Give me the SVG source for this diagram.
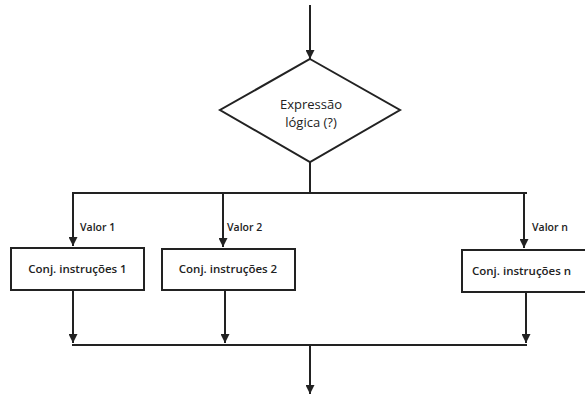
<svg xmlns="http://www.w3.org/2000/svg" width="585" height="397" viewBox="0 0 585 397">
  <style>
    .ln { stroke: #222; stroke-width: 2; fill: none; }
    .box { fill: #fff; stroke: #222; stroke-width: 2; }
    .txt { font-family: "Open Sans", "DejaVu Sans", sans-serif; font-weight: 600; fill: #222; }
    .lbl { font-size: 10.5px; }
    .inbox { font-size: 11.5px; text-anchor: middle; }
    .start { text-anchor: start; }
    .dtxt { font-size: 13px; text-anchor: middle; font-weight: 500; }
  </style>
  <defs>
    <marker id="arr" viewBox="0 0 10 10" refX="10" refY="5" markerWidth="4.5" markerHeight="4.5" orient="auto" markerUnits="strokeWidth">
      <path d="M0,0 L10,5 L0,10 z" fill="#222"/>
    </marker>
  </defs>
  <rect width="585" height="397" fill="#fff"/>

  <g id="connectors">
    <line class="ln" x1="310" y1="5" x2="310" y2="59" marker-end="url(#arr)"/>
    <line class="ln" x1="310" y1="162" x2="310" y2="193"/>
    <line class="ln" x1="72" y1="193" x2="527" y2="193"/>
    <line class="ln" x1="73" y1="193" x2="73" y2="246" marker-end="url(#arr)"/>
    <line class="ln" x1="223" y1="193" x2="223" y2="247" marker-end="url(#arr)"/>
    <line class="ln" x1="524" y1="193" x2="524" y2="248" marker-end="url(#arr)"/>
    <line class="ln" x1="73" y1="291" x2="73" y2="343" marker-end="url(#arr)"/>
    <line class="ln" x1="225" y1="291" x2="225" y2="343" marker-end="url(#arr)"/>
    <line class="ln" x1="526" y1="292" x2="526" y2="343" marker-end="url(#arr)"/>
    <line class="ln" x1="72" y1="345" x2="527" y2="345"/>
    <line class="ln" x1="310" y1="345" x2="310" y2="394" marker-end="url(#arr)"/>
    <text class="txt lbl" x="80" y="231">Valor 1</text>
    <text class="txt lbl" x="227" y="231">Valor 2</text>
    <text class="txt lbl" x="532" y="231">Valor n</text>
  </g>

  <g id="decision">
    <polygon class="box" points="310,59 400,110 310,162 220,110"/>
    <text class="txt dtxt" x="311" y="109">Expressão</text>
    <text class="txt dtxt" x="311" y="127">lógica (?)</text>
  </g>

  <g id="block1">
    <rect class="box" x="11" y="248" width="133" height="42"/>
    <text class="txt inbox" x="77.5" y="273">Conj. instruções 1</text>
  </g>

  <g id="block2">
    <rect class="box" x="162" y="249" width="133" height="41"/>
    <text class="txt inbox" x="228" y="273">Conj. instruções 2</text>
  </g>

  <g id="blockn">
    <rect class="box" x="462" y="250" width="130" height="42"/>
    <text class="txt inbox start" x="472" y="275">Conj. instruções n</text>
  </g>
</svg>
